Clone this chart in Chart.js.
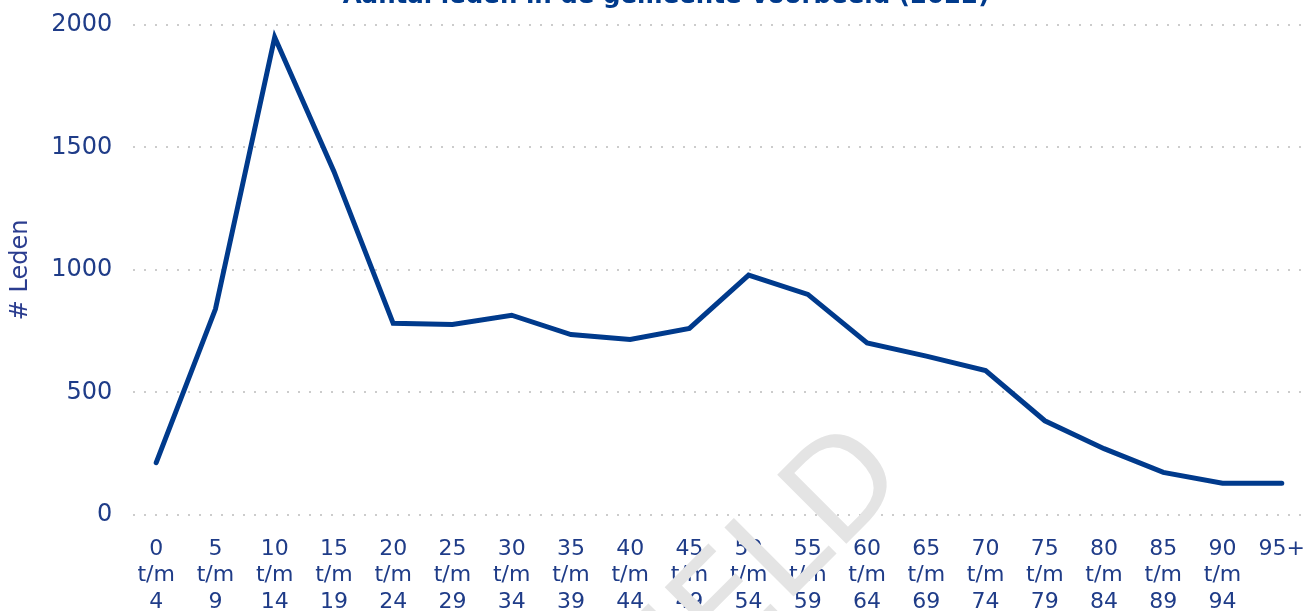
<!DOCTYPE html>
<html>
<head>
<meta charset="utf-8">
<title>Aantal leden</title>
<script src="https://cdn.jsdelivr.net/npm/chart.js@4"></script>
<style>
  html, body { margin:0; padding:0; background:#fff; overflow:hidden; }
  #wrap { position:absolute; left:0; top:-20px; width:1326px; height:660px; }
</style>
</head>
<body>
<div id="wrap"><canvas id="chart"></canvas></div>
<script>
// age groups (multi-line tick labels)
const ageLabels = [
  ['0','t/m','4'], ['5','t/m','9'], ['10','t/m','14'], ['15','t/m','19'],
  ['20','t/m','24'], ['25','t/m','29'], ['30','t/m','34'], ['35','t/m','39'],
  ['40','t/m','44'], ['45','t/m','49'], ['50','t/m','54'], ['55','t/m','59'],
  ['60','t/m','64'], ['65','t/m','69'], ['70','t/m','74'], ['75','t/m','79'],
  ['80','t/m','84'], ['85','t/m','89'], ['90','t/m','94'], ['95+']
];
// number of members per age group
const members = [213, 840, 1950, 1402, 782, 777, 815, 736, 716, 761, 979, 900, 702, 648, 589, 384, 270, 173, 129, 129];
const yTicks = [0, 500, 1000, 1500, 2000];

const titleText = 'Aantal leden in de gemeente Voorbeeld (2022)';
const yTitle = '# Leden';
const watermark = 'VOORBEELD';

const blue = '#003a8c';
const labelBlue = '#1f3c88';
const font = '"DejaVu Sans", Verdana, sans-serif';

// grey diagonal watermark on top of everything
const watermarkPlugin = {
  id: 'watermark',
  afterDraw(c){
    const ctx = c.ctx;
    ctx.save();
    ctx.translate(910, 500);
    ctx.rotate(-45 * Math.PI / 180);
    ctx.font = '134px ' + font;
    ctx.fillStyle = '#e4e4e4';
    ctx.textAlign = 'right';
    ctx.textBaseline = 'alphabetic';
    ctx.fillText(watermark, 0, 0);
    ctx.restore();
  }
};

const chart = new Chart(document.getElementById('chart').getContext('2d'), {
  type: 'line',
  data: {
    datasets: [{
      label: yTitle,
      data: members.map((v, i) => ({x: i, y: v})),
      borderColor: blue,
      borderWidth: 5,
      borderCapStyle: 'round',
      borderJoinStyle: 'miter',
      pointRadius: 0,
      tension: 0,
      fill: false
    }]
  },
  options: {
    responsive: true,
    maintainAspectRatio: false,
    animation: false,
    layout: { padding: { left: 6, right: 0, top: 0, bottom: 4 } },
    plugins: {
      legend: { display: false },
      tooltip: { enabled: false },
      title: {
        display: true,
        text: titleText,
        color: blue,
        font: { family: font, size: 24.5, weight: 'bold' },
        padding: { top: 2, bottom: 13.6 }
      }
    },
    scales: {
      x: {
        type: 'linear',
        min: -0.387,
        max: 19.387,
        grid: { display: false, drawTicks: false },
        border: { display: false },
        afterBuildTicks: s => { s.ticks = ageLabels.map((_, i) => ({value: i})); },
        ticks: {
          autoSkip: false,
          maxRotation: 0,
          minRotation: 0,
          padding: 21,
          color: labelBlue,
          font: { family: font, size: 22, lineHeight: 1.2 },
          callback: v => ageLabels[v] || ''
        }
      },
      y: {
        min: 0,
        max: 2000,
        afterBuildTicks: s => { s.ticks = yTicks.map(v => ({value: v})); },
        grid: { color: '#cccccc', lineWidth: 2, drawTicks: false },
        border: { display: false, dash: [2, 9] },
        ticks: {
          padding: 21,
          color: labelBlue,
          font: { family: font, size: 24 },
          callback: v => String(v)
        },
        title: {
          display: true,
          text: yTitle,
          color: '#2b3d8f',
          font: { family: font, size: 24 },
          padding: { top: 0, bottom: -4.6 }
        }
      }
    }
  },
  plugins: [watermarkPlugin]
});
</script>
</body>
</html>
